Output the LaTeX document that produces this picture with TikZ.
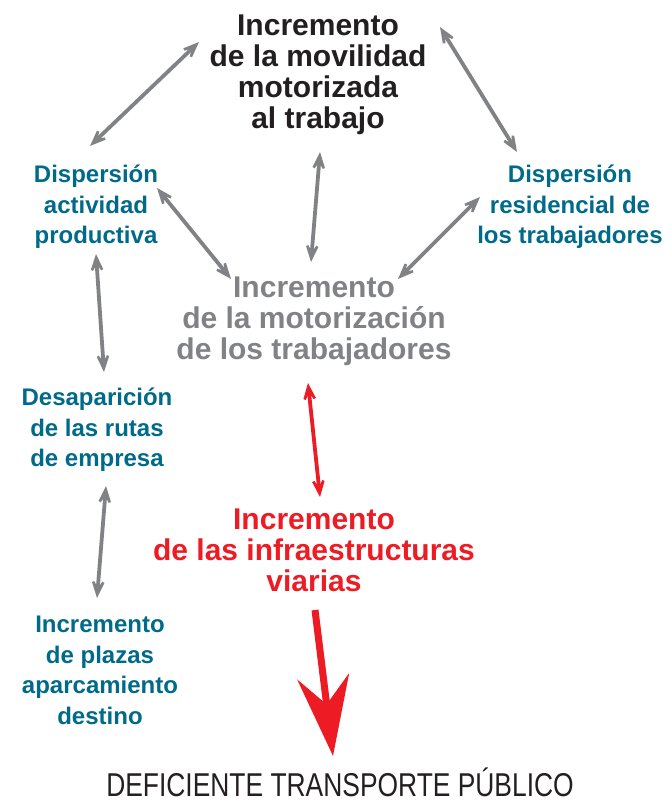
\documentclass[tikz,border=0pt]{standalone}
\usepackage{fontspec}
\setmainfont{Liberation Sans}
\newfontfamily\condfont{Liberation Sans}[FakeStretch=0.8]
\usetikzlibrary{arrows.meta}

\definecolor{tealtxt}{RGB}{0,106,138}
\definecolor{graytxt}{RGB}{128,130,133}
\definecolor{redtxt}{RGB}{237,28,36}
\definecolor{blacktxt}{RGB}{35,31,32}

\tikzset{
	small/.style={align=center, anchor=north, inner sep=0pt, text=tealtxt,
		font=\bfseries\fontsize{24}{30.5}\selectfont},
	large/.style={align=center, anchor=north, inner sep=0pt,
		font=\bfseries\fontsize{30}{31}\selectfont},
	gtip/.tip={Stealth[length=30pt,width=24pt,inset=20pt]},
	rtip/.tip={Stealth[length=80pt,width=52pt,inset=28pt]},
	garrow/.style={draw=graytxt, line width=3.8pt, gtip-gtip},
	rarrow/.style={draw=redtxt, line width=3.8pt, gtip-gtip},
}

\begin{document}
\begin{tikzpicture}[x=1pt,y=-1pt]
	\useasboundingbox (0,0) rectangle (662,802);

	% texts
	\node[large, text=blacktxt] (movil) at (318,15)
		{Incremento\\de la movilidad\\motorizada\\al trabajo};
	\node[large, text=graytxt] (motor) at (314,277)
		{Incremento\\de la motorización\\de los trabajadores};
	\node[large, text=redtxt] (infra) at (314,509)
		{Incremento\\de las infraestructuras\\viarias};
	\node[small] (dact) at (96,165) {Dispersión\\actividad\\productiva};
	\node[small] (dres) at (570,165) {Dispersión\\residencial de\\los trabajadores};
	\node[small] (rutas) at (97,388) {Desaparición\\de las rutas\\de empresa};
	\node[small] (plazas) at (100,616) {Incremento\\de plazas\\aparcamiento\\destino};
	\node[anchor=base, inner sep=0pt, text=blacktxt,
		font=\condfont\fontsize{33}{36}\selectfont] (transp) at (340,796)
		{DEFICIENTE TRANSPORTE PÚBLICO};

	% arrow ends
	\coordinate (a1) at (90,146);   \coordinate (b1) at (199,42);
	\coordinate (a2) at (157,188);  \coordinate (b2) at (231,279);
	\coordinate (a3) at (320,152);  \coordinate (b3) at (311,262);
	\coordinate (a4) at (440,27);   \coordinate (b4) at (517,152);
	\coordinate (a5) at (480,197);  \coordinate (b5) at (398,279);
	\coordinate (a6) at (96,254);   \coordinate (b6) at (104,372);
	\coordinate (a7) at (106,486);  \coordinate (b7) at (97,598);
	\coordinate (a8) at (308,383);  \coordinate (b8) at (320,497);
	\coordinate (a9) at (315,610);  \coordinate (b9) at (333,756);

	\foreach \i in {1,...,7} {\draw[garrow] (a\i) -- (b\i);}
	\draw[rarrow] (a8) -- (b8);
	\draw[draw=redtxt, line width=7pt, -rtip] (a9) -- (b9);
\end{tikzpicture}
\end{document}
